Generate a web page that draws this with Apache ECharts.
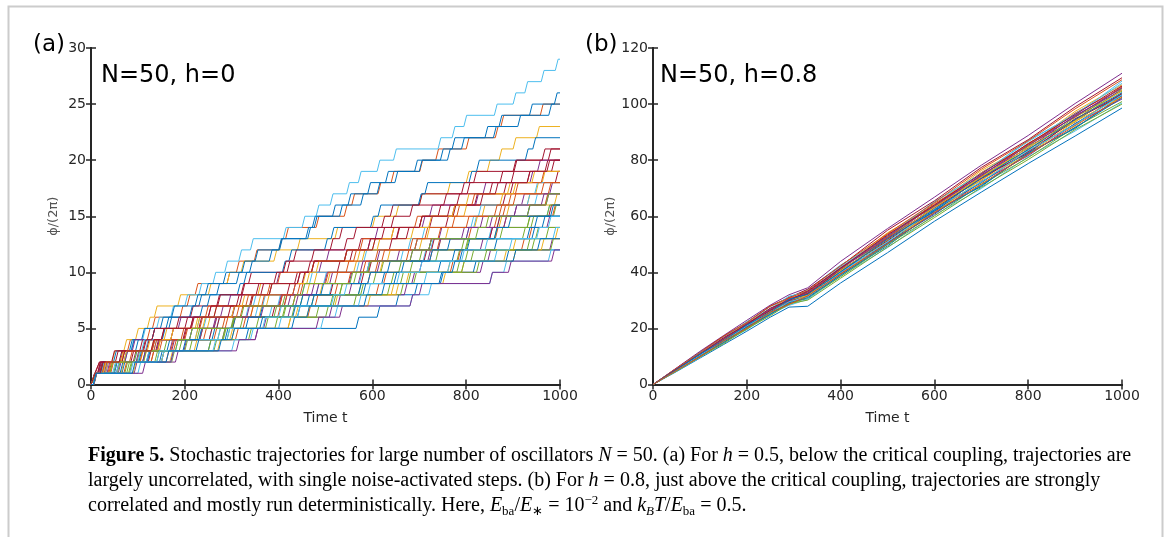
<!DOCTYPE html>
<html>
<head>
<meta charset="utf-8">
<title>Figure 5</title>
<script src="https://cdn.jsdelivr.net/npm/echarts@6.0.0/dist/echarts.min.js"></script>
<style>
  html, body { margin: 0; padding: 0; background: #fff; }
  #chart { width: 1167px; height: 537px; }
</style>
</head>
<body>
<div id="chart"></div>
<script>
// panel (a): time at which each trajectory climbs one more level (h=0)
var stepTimesA = [
  [4, 40, 110, 250, 330, 565, 610, 650, 690, 745, 815, 885],
  [3, 14, 62, 78, 120, 131, 190, 205, 222, 290, 310, 348, 401, 415, 480, 540, 556, 612, 640, 701, 735, 800, 862, 874, 958],
  [3, 20, 45, 70, 95, 120, 135, 185, 250, 290, 320, 390, 440, 520, 600, 650, 700, 760, 800, 845, 870, 900, 950],
  [5, 31, 118, 140, 232, 260, 301, 412, 430, 509, 588, 610, 720, 742, 830, 902, 918, 978],
  [6, 72, 98, 210, 226, 318, 390, 408, 530, 602, 618, 735, 790, 872, 930, 986],
  [4, 30, 60, 85, 110, 140, 170, 200, 230, 260, 285, 315, 340, 410, 450, 480, 510, 545, 570, 610, 645, 740, 770, 795, 860, 900, 925, 960, 990],
  [3, 12, 85, 110, 196, 212, 250, 338, 352, 440, 470, 552, 570, 651, 722, 740, 818, 880, 896, 968],
  [2, 20, 48, 95, 108, 160, 172, 230, 244, 282, 338, 350, 402, 462, 476, 515, 575, 590, 648, 690, 745, 770, 840, 870, 935, 988],
  [5, 42, 128, 142, 240, 302, 318, 430, 446, 548, 590, 672, 690, 805, 860, 878, 968],
  [4, 26, 64, 140, 156, 222, 262, 340, 356, 452, 470, 568, 600, 682, 700, 795, 872, 888, 962],
  [6, 58, 150, 168, 280, 300, 420, 436, 550, 570, 700, 718, 830, 850, 972],
  [5, 82, 150, 262, 280, 392, 408, 560, 575, 688, 780, 798, 930, 948],
  [3, 22, 100, 116, 222, 240, 350, 366, 480, 496, 590, 660, 676, 800, 816, 930, 946],
  [2, 12, 52, 118, 130, 200, 212, 268, 320, 336, 418, 432, 510, 530, 620, 638, 700, 802, 816, 902, 975],
  [3, 25, 70, 82, 130, 148, 210, 222, 268, 310, 322, 380, 400, 458, 472, 530, 548, 610, 628, 700, 760, 790, 858, 910, 976],
  [4, 38, 128, 146, 262, 280, 398, 412, 520, 590, 606, 722, 738, 862, 880, 984],
  [5, 30, 105, 120, 222, 238, 340, 356, 460, 476, 560, 578, 700, 716, 818, 834, 930, 948],
  [6, 92, 180, 198, 350, 368, 508, 526, 668, 684, 830, 846, 978],
  [4, 48, 140, 156, 282, 298, 428, 446, 570, 640, 656, 780, 798, 920, 938],
  [3, 46, 118, 134, 252, 268, 380, 398, 508, 572, 588, 708, 724, 848, 866, 972],
  [4, 16, 90, 104, 198, 214, 300, 316, 418, 434, 525, 540, 636, 652, 756, 772, 878, 894, 990],
  [3, 20, 72, 86, 152, 166, 232, 248, 312, 326, 408, 422, 498, 512, 596, 612, 698, 712, 806, 822, 926, 942],
  [5, 70, 160, 176, 308, 324, 462, 478, 608, 624, 766, 782, 918, 934],
  [3, 40, 112, 128, 232, 248, 358, 374, 488, 504, 616, 632, 740, 756, 870, 886, 988],
  [2, 15, 72, 88, 170, 186, 276, 292, 380, 396, 486, 502, 590, 606, 706, 722, 820, 836, 936, 952],
  [5, 80, 172, 188, 336, 352, 500, 516, 660, 676, 822, 838, 980],
  [4, 22, 92, 108, 210, 226, 330, 346, 450, 466, 566, 582, 690, 706, 810, 826, 930, 946],
  [4, 54, 122, 138, 252, 268, 386, 402, 510, 576, 592, 710, 726, 850, 866, 976],
  [5, 66, 146, 162, 286, 302, 430, 446, 570, 646, 662, 786, 802, 930, 946],
  [3, 24, 66, 134, 170, 232, 244, 330, 376, 398, 470, 560, 574, 640, 690, 780, 812, 905, 960],
  [6, 64, 168, 220, 296, 420, 436, 520, 650, 672, 760, 880, 900, 990],
  [4, 34, 96, 172, 210, 300, 332, 420, 480, 498, 610, 652, 740, 790, 880, 902, 970],
  [3, 56, 112, 200, 270, 300, 410, 470, 530, 560, 680, 700, 800, 860, 930, 972],
  [5, 100, 170, 300, 340, 490, 520, 680, 720, 850, 880, 975],
  [3, 18, 66, 130, 150, 230, 262, 340, 362, 450, 470, 540, 590, 672, 700, 770, 830, 850, 930, 982],
  [4, 62, 120, 224, 258, 360, 440, 460, 580, 620, 740, 770, 860, 940, 962],
  [4, 36, 82, 170, 192, 262, 340, 364, 440, 520, 544, 620, 690, 712, 800, 870, 890, 975],
  [5, 90, 150, 270, 300, 420, 460, 590, 640, 750, 790, 900, 960],
  [3, 28, 110, 140, 232, 262, 362, 400, 470, 550, 574, 680, 720, 800, 850, 930, 960],
  [6, 76, 136, 250, 290, 372, 480, 510, 632, 660, 790, 810, 940, 970],
  [5, 54, 150, 180, 270, 366, 400, 512, 540, 652, 700, 790, 840, 950, 975],
  [2, 14, 44, 112, 130, 182, 250, 270, 322, 390, 410, 470, 540, 560, 640, 680, 752, 790, 872, 900, 962],
  [4, 50, 102, 196, 230, 330, 360, 470, 490, 590, 632, 722, 760, 860, 890, 980],
  [4, 24, 104, 130, 200, 286, 310, 402, 430, 500, 580, 606, 680, 740, 770, 860, 900, 960],
  [3, 26, 70, 142, 170, 226, 300, 322, 380, 460, 480, 540, 610, 640, 720, 770, 800, 900, 940],
  [6, 110, 170, 310, 350, 480, 530, 680, 700, 850, 890, 982],
  [4, 40, 92, 180, 210, 300, 320, 430, 450, 552, 590, 680, 720, 820, 842, 930, 970],
  [5, 84, 140, 260, 290, 400, 440, 570, 590, 710, 760, 860, 892, 985],
  [3, 20, 60, 128, 150, 212, 292, 310, 380, 440, 462, 540, 600, 620, 700, 760, 780, 862, 930, 972],
  [5, 88, 160, 272, 300, 428, 460, 582, 620, 742, 770, 900, 952]
];

// panel (b): phase of each trajectory at the sample times (h=0.8)
var timesB = [0, 50, 100, 150, 200, 250, 290, 330, 400, 500, 600, 700, 800, 900, 1000];
var phaseB = [
  [0, 4.6, 9.4, 14.2, 19.0, 24.0, 27.6, 27.9, 36.2, 47.0, 58.2, 68.6, 78.8, 88.6, 98.6],
  [0, 5.5, 10.6, 16.4, 21.5, 27.1, 30.2, 32.9, 41.0, 53.6, 63.4, 75.6, 85.0, 96.8, 105.6],
  [0, 5.0, 10.4, 15.2, 20.8, 25.3, 29.6, 31.5, 39.4, 50.2, 62.8, 71.9, 84.0, 92.5, 104.0],
  [0, 5.9, 11.8, 17.4, 22.9, 28.3, 32.0, 34.5, 43.9, 55.6, 66.8, 78.2, 88.8, 100.2, 111.0],
  [0, 5.2, 10.9, 15.6, 21.4, 26.0, 30.5, 32.0, 40.9, 51.0, 63.6, 72.8, 84.9, 93.6, 105.5],
  [0, 5.7, 11.2, 17.0, 21.9, 27.8, 30.9, 33.8, 42.6, 52.6, 65.3, 75.0, 87.1, 96.0, 108.2],
  [0, 5.1, 10.1, 15.9, 20.5, 26.4, 29.2, 32.4, 39.8, 52.3, 61.6, 74.1, 82.5, 94.8, 102.9],
  [0, 4.9, 10.3, 14.8, 20.4, 24.9, 29.4, 30.6, 39.1, 49.4, 61.9, 70.6, 82.7, 91.3, 103.1],
  [0, 5.4, 10.5, 16.4, 21.1, 26.9, 29.7, 32.8, 41.6, 51.9, 64.2, 73.5, 85.6, 94.2, 106.4],
  [0, 5.6, 11.4, 16.2, 22.3, 26.8, 31.3, 33.2, 41.2, 54.1, 63.9, 76.3, 85.2, 97.4, 106.9],
  [0, 5.0, 9.9, 15.5, 20.0, 25.8, 28.7, 31.4, 39.6, 50.6, 60.7, 72.4, 81.6, 93.1, 101.8],
  [0, 5.3, 10.9, 15.8, 21.6, 26.1, 30.4, 32.3, 40.1, 52.7, 62.4, 74.4, 83.6, 95.3, 104.6],
  [0, 4.8, 9.6, 15.0, 19.5, 25.1, 28.2, 30.4, 38.6, 48.8, 60.4, 69.9, 81.2, 90.4, 100.4],
  [0, 5.8, 11.5, 17.2, 22.2, 28.0, 31.0, 34.0, 42.2, 55.0, 65.5, 77.4, 87.3, 99.0, 109.4],
  [0, 5.2, 10.2, 15.7, 20.9, 25.5, 29.9, 31.7, 40.3, 50.5, 62.1, 72.0, 83.2, 92.9, 103.6],
  [0, 5.5, 11.1, 16.1, 21.8, 26.6, 30.7, 32.6, 41.8, 52.4, 64.6, 74.3, 86.0, 95.4, 106.0],
  [0, 5.1, 10.0, 15.6, 20.3, 25.9, 28.9, 31.9, 39.2, 51.4, 61.2, 73.0, 82.1, 93.8, 102.5],
  [0, 5.4, 11.0, 15.9, 21.7, 26.3, 30.6, 32.1, 41.3, 52.1, 63.0, 74.8, 84.3, 95.9, 105.0],
  [0, 4.9, 9.8, 15.1, 19.7, 25.3, 28.5, 31.0, 38.4, 49.9, 60.1, 71.3, 80.9, 91.8, 100.9],
  [0, 5.6, 11.4, 16.5, 22.4, 27.0, 31.5, 33.0, 42.0, 53.0, 65.0, 75.3, 86.6, 96.5, 107.4],
  [0, 5.3, 10.4, 16.0, 20.7, 26.5, 29.4, 32.5, 40.7, 51.3, 62.9, 73.4, 83.0, 94.3, 103.7],
  [0, 5.0, 10.3, 14.9, 20.5, 25.0, 29.1, 31.1, 38.9, 50.1, 61.1, 70.9, 82.3, 91.6, 102.2],
  [0, 5.7, 11.3, 17.1, 22.1, 27.9, 30.8, 33.5, 42.4, 53.8, 64.9, 76.8, 86.9, 98.3, 108.7],
  [0, 5.2, 10.7, 15.7, 21.3, 25.9, 30.1, 31.8, 40.6, 51.7, 63.1, 73.9, 84.5, 94.1, 104.9],
  [0, 5.4, 10.6, 16.3, 21.2, 26.8, 29.9, 33.0, 41.4, 52.9, 63.7, 74.6, 85.3, 95.6, 105.8],
  [0, 4.8, 9.9, 14.5, 19.9, 24.5, 28.8, 30.1, 37.9, 49.0, 59.5, 70.3, 80.2, 90.9, 100.0],
  [0, 5.1, 10.5, 15.3, 20.9, 25.6, 29.5, 31.3, 39.9, 50.9, 62.6, 72.2, 83.4, 92.7, 103.3],
  [0, 5.5, 10.8, 16.6, 21.4, 27.2, 30.0, 33.3, 41.5, 53.3, 64.0, 75.2, 85.8, 96.3, 106.5],
  [0, 5.3, 10.8, 15.6, 21.2, 25.8, 30.3, 32.2, 40.2, 51.8, 62.3, 73.6, 83.8, 94.5, 104.1],
  [0, 5.0, 9.9, 15.4, 20.1, 25.7, 28.6, 31.6, 39.4, 50.3, 61.3, 71.5, 82.0, 92.3, 102.4]
];

var matlabColors = ['#0072BD', '#D95319', '#EDB120', '#7E2F8E', '#77AC30', '#4DBEEE', '#A2142F'];
var axisColor = '#262626';
var sans = 'DejaVu Sans';

// staircase points from step times
function stairs(steps) {
  var pts = [[0, 0]];
  for (var k = 0; k < steps.length; k++) {
    pts.push([steps[k], k]);
    pts.push([steps[k] + 6, k + 1]);
  }
  pts.push([1000, steps.length]);
  return pts;
}

function plain(v) { return String(v); }

function xAx(grid, top) {
  return {
    gridIndex: grid, type: 'value', min: 0, max: 1000, interval: 200,
    position: top ? 'top' : 'bottom',
    name: top ? '' : 'Time t', nameLocation: 'middle', nameGap: 27,
    nameTextStyle: { color: axisColor, fontSize: 14, fontFamily: sans },
    axisLine: { lineStyle: { color: axisColor, width: 2 } },
    axisTick: { inside: true, length: 5, lineStyle: { color: axisColor, width: 1.5 } },
    axisLabel: { show: !top, color: axisColor, fontSize: 14, fontFamily: sans, margin: 5, formatter: plain },
    splitLine: { show: false }
  };
}

function yAx(grid, max, step, right) {
  return {
    gridIndex: grid, type: 'value', min: 0, max: max, interval: step,
    position: right ? 'right' : 'left',
    name: right ? '' : 'ϕ/(2π)', nameLocation: 'middle', nameGap: 31,
    nameTextStyle: { color: '#555', fontSize: 13, fontFamily: sans },
    axisLine: { show: true, lineStyle: { color: axisColor, width: 2 } },
    axisTick: { show: true, inside: true, length: 5, lineStyle: { color: axisColor, width: 1.5 } },
    axisLabel: { show: !right, color: axisColor, fontSize: 14, fontFamily: sans, margin: 5, formatter: plain },
    splitLine: { show: false }
  };
}

var series = [];
stepTimesA.forEach(function (s, i) {
  series.push({
    type: 'line', xAxisIndex: 0, yAxisIndex: 0, data: stairs(s),
    showSymbol: false, silent: true,
    lineStyle: { width: 1, color: matlabColors[i % 7] }
  });
});
phaseB.forEach(function (row, i) {
  series.push({
    type: 'line', xAxisIndex: 2, yAxisIndex: 2,
    data: row.map(function (v, j) { return [timesB[j], v]; }),
    showSymbol: false, silent: true,
    lineStyle: { width: 1, color: matlabColors[i % 7] }
  });
});

var serif = 'Liberation Serif';
var ink = '#1a1a1a';
var rich = {
  b: { fontFamily: serif, fontSize: 20, fontWeight: 'bold', lineHeight: 24, color: ink },
  n: { fontFamily: serif, fontSize: 20, lineHeight: 24, color: ink },
  i: { fontFamily: serif, fontSize: 20, fontStyle: 'italic', lineHeight: 24, color: ink },
  s: { fontFamily: serif, fontSize: 13, lineHeight: 14, verticalAlign: 'bottom', color: ink },
  si: { fontFamily: serif, fontSize: 13, fontStyle: 'italic', lineHeight: 14, verticalAlign: 'bottom', color: ink },
  p: { fontFamily: serif, fontSize: 13, lineHeight: 13, verticalAlign: 'top', color: ink }
};
var capLines = [
  '{b|Figure 5.}{n| Stochastic trajectories for large number of oscillators }{i|N}{n| = 50. (a) For }{i|h}{n| = 0.5, below the critical coupling, trajectories are}',
  '{n|largely uncorrelated, with single noise-activated steps. (b) For }{i|h}{n| = 0.8, just above the critical coupling, trajectories are strongly}',
  '{n|correlated and mostly run deterministically. Here, }{i|E}{s|ba}{n|/}{i|E}{s|∗}{n| = 10}{p|−2}{n| and }{i|k}{si|B}{i|T}{n|/}{i|E}{s|ba}{n| = 0.5.}'
];

var graphic = [
  { type: 'polyline', shape: { points: [[8.5, 537], [8.5, 6.5], [1162.5, 6.5], [1162.5, 537]] },
    style: { stroke: '#cccccc', lineWidth: 2, fill: null }, silent: true },
  { type: 'text', x: 33, y: 45, style: { text: '(a)', font: '23px "DejaVu Sans"', fill: '#000', textAlign: 'left', textVerticalAlign: 'middle' } },
  { type: 'text', x: 585, y: 45, style: { text: '(b)', font: '23px "DejaVu Sans"', fill: '#000', textAlign: 'left', textVerticalAlign: 'middle' } },
  { type: 'text', x: 101, y: 76, style: { text: 'N=50, h=0', font: '24px "DejaVu Sans"', fill: '#000', textAlign: 'left', textVerticalAlign: 'middle' } },
  { type: 'text', x: 660, y: 76, style: { text: 'N=50, h=0.8', font: '24px "DejaVu Sans"', fill: '#000', textAlign: 'left', textVerticalAlign: 'middle' } }
];
capLines.forEach(function (t, i) {
  graphic.push({ type: 'text', x: 88, y: 456 + i * 25,
    style: { text: t, rich: rich, textAlign: 'left', textVerticalAlign: 'middle' } });
});

var chart = echarts.init(document.getElementById('chart'));
chart.setOption({
  animation: false,
  backgroundColor: '#fff',
  grid: [
    { left: 91, top: 48, width: 469, height: 336.5 },
    { left: 653, top: 48, width: 469, height: 336.5 }
  ],
  xAxis: [xAx(0, false), xAx(0, true), xAx(1, false), xAx(1, true)],
  yAxis: [yAx(0, 30, 5, false), yAx(0, 30, 5, true), yAx(1, 120, 20, false), yAx(1, 120, 20, true)],
  series: series,
  graphic: graphic
});
</script>
</body>
</html>
